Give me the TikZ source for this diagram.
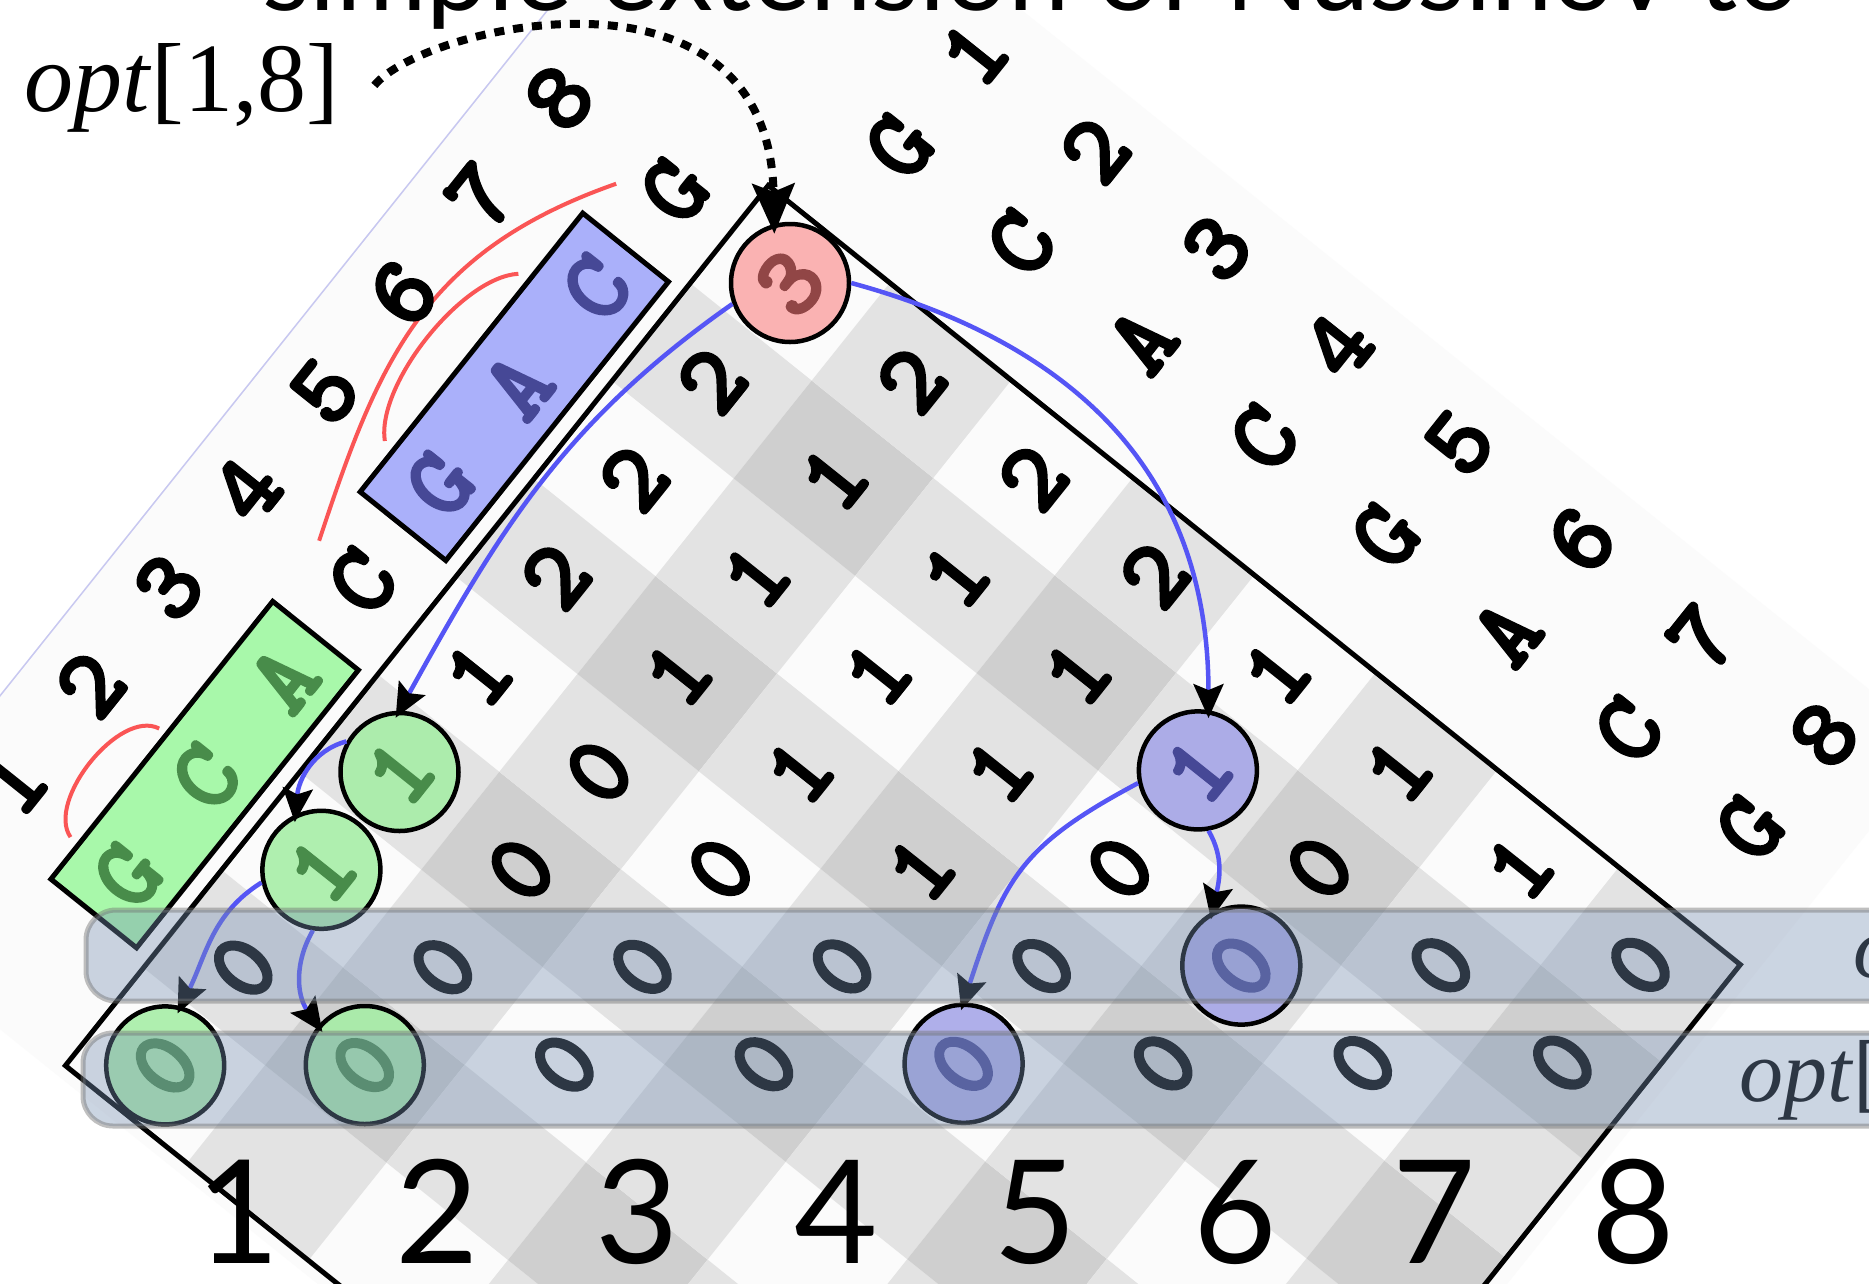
\documentclass[tikz,border=0pt]{standalone}
\usepackage{fontspec}
\usepackage{graphicx}
\setmainfont{Liberation Serif}
\newfontfamily\tabfont{lmmonolt10-bold.otf}[FakeBold=2.5]
\newfontfamily\gillfont{Lato}
\usetikzlibrary{arrows.meta}

\definecolor{offwhite}{RGB}{251,251,251}
\definecolor{lavender}{RGB}{200,200,240}
\definecolor{plaidlight}{RGB}{227,227,227}
\definecolor{plaiddark}{RGB}{207,207,207}
\definecolor{boxgreen}{RGB}{168,248,170}
\definecolor{boxblue}{RGB}{170,176,250}
\definecolor{txtgreen}{RGB}{72,140,74}
\definecolor{txtblue}{RGB}{70,72,150}
\definecolor{txtred}{RGB}{145,70,70}
\definecolor{circred}{RGB}{250,168,168}
\definecolor{circgreen}{RGB}{165,238,165}
\definecolor{circblue}{RGB}{165,165,232}
\definecolor{arcred}{RGB}{250,85,85}
\definecolor{arrowblue}{RGB}{85,85,245}
\definecolor{bandfill}{RGB}{120,145,180}

\begin{document}
\begin{tikzpicture}[x=1pt,y=1pt,
  tabf/.style={font=\tabfont\fontsize{100}{100}\selectfont, inner sep=0pt},
  celltxt/.style={tabf, rotate=51.4},
  circ/.style={tabf, circle, draw=black, line width=4.5pt, minimum size=118pt, fill opacity=0.88, text opacity=1},
  redc/.style={circ, fill=circred, text=txtred},
  greenc/.style={circ, fill=circgreen, text=txtgreen},
  bluec/.style={circ, fill=circblue, text=txtblue},
  barrow/.style={draw=arrowblue, line width=4.5pt, -{Stealth[length=34pt,width=30pt,inset=6pt,color=black]}, shorten >=-8pt},
  zeroband/.style={fill=bandfill, fill opacity=0.38, draw=black!55, draw opacity=0.45, line width=5pt, rounded corners=30pt},
  pairarc/.style={draw=arcred, line width=4pt},
  tableframe/.style={draw=black, line width=5pt},
  seqbox/.style={draw=black, line width=5pt},
  optfont/.style={font=\fontsize{88}{88}\selectfont, inner sep=0pt, anchor=base west},
]
\path[use as bounding box] (0,-1283) rectangle (1869,0);
\clip (0,-1283) rectangle (1869,0);
\fill[white] (0,-1283) rectangle (1869,0);

\begin{scope}[shift={(43.7,-968)}, x={(121.5pt,-97.4pt)}, y={(78.1pt,97.8pt)}]
  % label band background
  \fill[offwhite] (-1.31,-0.6) -- (8.61,-0.6) -- (8.61,10.86) -- (-1.31,10.86) -- cycle;
  \draw[lavender, line width=1.5pt] (-1.31,-0.6) -- (-1.31,10.86);
  % plaid
  \foreach \i in {1,...,8}{
    \foreach \j in {0,...,8}{
      \pgfmathtruncatemacro{\cc}{1-mod(\i,2)+mod(\j,2)}
      \ifnum\cc=1 \fill[plaidlight] (\i-0.5,\j-0.5) -- (\i+0.5,\j-0.5) -- (\i+0.5,\j+0.5) -- (\i-0.5,\j+0.5) -- cycle; \fi
      \ifnum\cc=2 \fill[plaiddark] (\i-0.5,\j-0.5) -- (\i+0.5,\j-0.5) -- (\i+0.5,\j+0.5) -- (\i-0.5,\j+0.5) -- cycle; \fi
    }
  }
  % table frame
  \draw[tableframe] (0.5,-0.5) -- (8.5,-0.5) -- (8.5,8.5) -- (0.5,8.5) -- cycle;
  % sequence boxes
  \draw[seqbox, fill=boxgreen] (-0.32,0.59) -- (0.385,0.59) -- (0.385,3.43) -- (-0.32,3.43) -- cycle;
  \draw[seqbox, fill=boxblue] (-0.32,4.55) -- (0.385,4.55) -- (0.385,7.40) -- (-0.32,7.40) -- cycle;
  % base pair arcs
  \draw[pairarc] (-0.33,4.04) .. controls (-0.75,5.45) and (-0.97,6.36) .. (-0.27,7.75);
  \draw[pairarc] (-0.40,4.99) .. controls (-0.67,5.3) and (-0.67,6.4) .. (-0.40,6.70);
  \draw[pairarc] (-0.39,0.95) .. controls (-0.66,1.05) and (-0.66,2.0) .. (-0.38,2.07);
  % left sequence and indices
  \foreach \k/\l/\c in {1/G/txtgreen,2/C/txtgreen,3/A/txtgreen,4/C/black,5/G/txtblue,6/A/txtblue,7/C/txtblue,8/G/black}{
    \node[celltxt, text=\c] (ls\k) at (0.05,\k) {\l};
    \node[celltxt] (ln\k) at (-0.9,\k) {\k};
  }
  % right sequence and indices
  \foreach \k/\l in {1/G,2/C,3/A,4/C,5/G,6/A,7/C,8/G}{
    \node[celltxt] (rs\k) at (\k,9.4) {\l};
    \node[celltxt] (rn\k) at (\k,10.35) {\k};
  }
  % table values
  \foreach \i/\j/\v in {3/2/0,4/3/0,6/5/0,7/6/0,8/7/0,
      1/1/0,2/2/0,3/3/0,4/4/0,5/5/0,7/7/0,8/8/0,
      2/3/0,3/4/0,4/5/1,5/6/0,6/7/0,7/8/1,
      2/4/0,3/5/1,4/6/1,6/8/1,
      1/4/1,2/5/1,3/6/1,4/7/1,5/8/1,
      1/5/2,2/6/1,3/7/1,4/8/2,
      1/6/2,2/7/1,3/8/2,
      1/7/2,2/8/2}{
    \node[celltxt] (v\i\j) at (\i,\j) {\v};
  }
  % highlighted cells
  \node[redc] (c18) at (1,8) {\rotatebox{51.4}{3}};
  \node[greenc] (c13) at (1,3) {\rotatebox{51.4}{1}};
  \node[greenc] (c12) at (1,2) {\rotatebox{51.4}{1}};
  \node[greenc] (c10) at (1,0) {\rotatebox{51.4}{0}};
  \node[greenc] (c21) at (2,1) {\rotatebox{51.4}{0}};
  \node[bluec] (c57) at (5,7) {\rotatebox{51.4}{1}};
  \node[bluec] (c66) at (6,6) {\rotatebox{51.4}{0}};
  \node[bluec] (c54) at (5,4) {\rotatebox{51.4}{0}};
\end{scope}

% traceback arrows
\draw[barrow] (c18.200) to[out=215,in=61] (c13.north);
\draw[barrow] (c18.east) .. controls (1061,-340) and (1208,-462) .. (c57.80);
\draw[barrow] (c13.150) to[out=195,in=85] (c12.115);
\draw[barrow] (c12.192) to[out=212,in=64] (c10.75);
\draw[barrow] (c12.262) to[out=240,in=125] (c21.140);
\draw[barrow] (c57.192) to[out=208,in=72,looseness=1.2] (c54.north);
\draw[barrow] (c57.280) to[out=-60,in=78] (c66.118);

% opt[1,8] label and dotted pointer
\node[font=\fontsize{98}{98}\selectfont, anchor=base west, inner sep=0pt] (optlab) at (24,-111) {\textit{opt}[1,8]};
\draw[line width=8pt, dash pattern=on 10pt off 9pt, -{Stealth[length=50pt,width=42pt,inset=8pt]}, shorten >=-10pt]
  ([shift={(35pt,2pt)}]optlab.east) .. controls (422,-26) and (769,55) .. (c18.105);

% row labels (under the bands)
\node[optfont] (lab1) at (1853,-977) {\textit{opt}[\textit{i},\textit{i}]};
\node[optfont] (lab0) at (1739,-1101) {\textit{opt}[\textit{i},\textit{i}$-$1]};

% bottom indices
\foreach \k in {1,...,8}{
  \node[font=\gillfont\fontsize{144}{144}\selectfont, anchor=base, inner sep=0pt] (b\k) at ({39+199.3*\k},-1263) {\k};
}

% title (cut off at the top)
\node[font=\gillfont\fontsize{110}{110}\selectfont, anchor=base west, inner sep=0pt] (title) at (262,-10) {simple extension of Nussinov to};

% translucent zero bands
\draw[zeroband] (86,-910) rectangle (1940,-1001);
\draw[zeroband] (83,-1033) rectangle (1940,-1126);
\end{tikzpicture}
\end{document}
